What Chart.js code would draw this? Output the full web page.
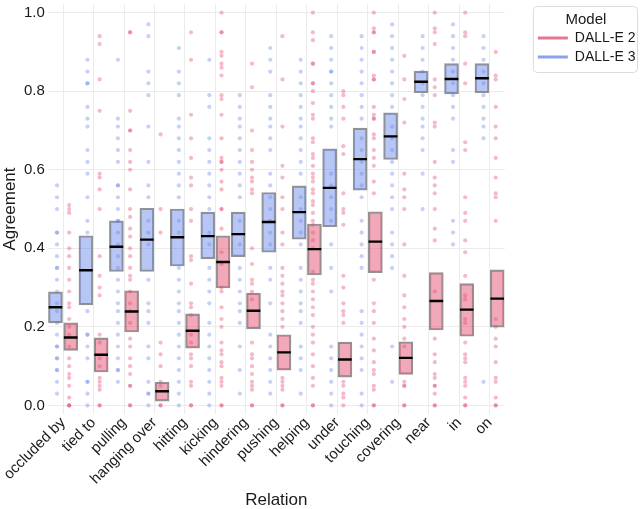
<!DOCTYPE html>
<html>
<head>
<meta charset="utf-8">
<script src="https://cdn.jsdelivr.net/npm/chart.js@4/dist/chart.umd.min.js"></script>
<style>
  html, body { margin: 0; padding: 0; background: #fff; }
  #wrap { width: 640px; height: 509px; }
</style>
</head>
<body>
<div id="wrap"><canvas id="chart"></canvas></div>
<script>
var categories = ['occluded by', 'tied to', 'pulling', 'hanging over', 'hitting', 'kicking', 'hindering',
    'pushing', 'helping', 'under', 'touching', 'covering', 'near', 'in', 'on'];
var seriesNames = ['DALL-E 2', 'DALL-E 3'];
var yTicks = [0, 0.2, 0.4, 0.6, 0.8, 1.0];

// box ranges and medians
var d2Low = [0.14, 0.085, 0.187, 0.011, 0.146, 0.299, 0.195, 0.09, 0.332, 0.072, 0.338, 0.079, 0.192, 0.176, 0.199];
var d2High = [0.21, 0.172, 0.292, 0.059, 0.233, 0.432, 0.286, 0.18, 0.462, 0.161, 0.493, 0.162, 0.338, 0.31, 0.345];
var d2Median = [0.173, 0.129, 0.239, 0.036, 0.19, 0.365, 0.241, 0.135, 0.398, 0.117, 0.417, 0.121, 0.266, 0.244, 0.272];

var d3Low = [0.21, 0.256, 0.341, 0.341, 0.355, 0.373, 0.379, 0.39, 0.423, 0.455, 0.548, 0.626, 0.796, 0.793, 0.796];
var d3High = [0.289, 0.432, 0.47, 0.502, 0.50, 0.492, 0.492, 0.542, 0.559, 0.653, 0.706, 0.745, 0.851, 0.87, 0.87];
var d3Median = [0.25, 0.344, 0.404, 0.422, 0.428, 0.431, 0.436, 0.467, 0.492, 0.554, 0.627, 0.685, 0.824, 0.831, 0.833];

// individual agreement values per relation
var d2Points = [
    [0.51, 0.50, 0.49, 0.44, 0.40, 0.38, 0.35, 0.32, 0.29, 0.26, 0.25, 0.22, 0.20, 0.18, 0.15, 0.12, 0.10, 0.08, 0.07, 0.05, 0.02, 0, 0, 0],
    [0.94, 0.92, 0.83, 0.75, 0.59, 0.58, 0.55, 0.50, 0.38, 0.33, 0.30, 0.28, 0.18, 0.16, 0.12, 0.10, 0.07, 0.06, 0.05, 0.04, 0, 0],
    [0.95, 0.95, 0.75, 0.70, 0.70, 0.65, 0.62, 0.60, 0.55, 0.50, 0.48, 0.45, 0.43, 0.40, 0.38, 0.35, 0.33, 0.32, 0.29, 0.26, 0.24, 0.21, 0.17, 0.15, 0.12, 0.10, 0.08, 0.05, 0.05, 0, 0],
    [0.69, 0.50, 0.44, 0.16, 0.13, 0.10, 0.06, 0.05, 0, 0],
    [0.95, 0.88, 0.74, 0.68, 0.63, 0.58, 0.56, 0.50, 0.47, 0.38, 0.37, 0.31, 0.26, 0.25, 0.23, 0.18, 0.16, 0.13, 0.12, 0.10, 0.06, 0.05, 0, 0],
    [1.0, 0.95, 0.95, 0.90, 0.89, 0.87, 0.86, 0.84, 0.79, 0.78, 0.74, 0.68, 0.63, 0.62, 0.62, 0.60, 0.57, 0.55, 0.50, 0.50, 0.45, 0.39, 0.36, 0.30, 0.29, 0.25, 0.22, 0.20, 0.16, 0.14, 0.13, 0.11, 0.10, 0.07, 0.06, 0.05, 0, 0],
    [0.87, 0.81, 0.70, 0.65, 0.62, 0.60, 0.58, 0.57, 0.55, 0.54, 0.40, 0.36, 0.32, 0.31, 0.29, 0.27, 0.16, 0.13, 0.12, 0.10, 0.08, 0.06, 0.05, 0.04, 0, 0],
    [0.94, 0.83, 0.71, 0.61, 0.58, 0.53, 0.50, 0.44, 0.41, 0.35, 0.33, 0.31, 0.29, 0.28, 0.26, 0.24, 0.22, 0.20, 0.07, 0.06, 0.05, 0.04, 0, 0],
    [1.0, 0.95, 0.93, 0.87, 0.87, 0.82, 0.82, 0.80, 0.77, 0.74, 0.73, 0.68, 0.67, 0.64, 0.63, 0.61, 0.59, 0.58, 0.57, 0.55, 0.54, 0.52, 0.51, 0.49, 0.47, 0.46, 0.44, 0.42, 0.40, 0.34, 0.32, 0.31, 0.29, 0.27, 0.25, 0.23, 0.20, 0.18, 0.16, 0.13, 0.10, 0.07, 0.05, 0, 0],
    [0.80, 0.79, 0.76, 0.73, 0.66, 0.64, 0.54, 0.50, 0.49, 0.46, 0.33, 0.30, 0.26, 0.24, 0.23, 0.21, 0.06, 0.05, 0.03, 0.02, 0],
    [1.0, 0.96, 0.95, 0.95, 0.90, 0.90, 0.84, 0.83, 0.83, 0.76, 0.74, 0.73, 0.73, 0.69, 0.68, 0.65, 0.63, 0.61, 0.57, 0.54, 0.32, 0.26, 0.24, 0.21, 0.17, 0.14, 0.11, 0.09, 0.08, 0.05, 0.04, 0, 0],
    [0.89, 0.83, 0.78, 0.72, 0.59, 0.55, 0.53, 0.50, 0.41, 0.33, 0.28, 0.25, 0.22, 0.20, 0.17, 0.15, 0.06, 0.05, 0.05, 0, 0],
    [1.0, 0.96, 0.95, 0.92, 0.83, 0.81, 0.79, 0.72, 0.71, 0.62, 0.58, 0.56, 0.54, 0.50, 0.45, 0.42, 0.29, 0.17, 0.13, 0.11, 0.08, 0.07, 0.05, 0.05, 0.03, 0, 0],
    [1.0, 0.95, 0.94, 0.87, 0.82, 0.67, 0.65, 0.53, 0.49, 0.47, 0.42, 0.39, 0.33, 0.28, 0.27, 0.22, 0.21, 0.16, 0.13, 0.12, 0.11, 0.07, 0.06, 0.05, 0.02, 0, 0],
    [0.90, 0.84, 0.83, 0.76, 0.71, 0.68, 0.63, 0.58, 0.54, 0.53, 0.47, 0.22, 0.20, 0.17, 0.15, 0.11, 0.07, 0.06, 0.02, 0, 0]
];
var d3Points = [
    [0.56, 0.53, 0.50, 0.44, 0.44, 0.41, 0.38, 0.35, 0.35, 0.32, 0.29, 0.26, 0.24, 0.21, 0.18, 0.15, 0.15, 0.12, 0.12, 0.09, 0.09, 0.06, 0.03],
    [0.88, 0.85, 0.82, 0.82, 0.76, 0.73, 0.71, 0.65, 0.62, 0.59, 0.53, 0.47, 0.44, 0.24, 0.18, 0.18, 0.15, 0.12, 0.06, 0.06, 0.03, 0],
    [0.88, 0.73, 0.71, 0.68, 0.65, 0.62, 0.56, 0.56, 0.53, 0.50, 0.47, 0.47, 0.44, 0.41, 0.38, 0.35, 0.32, 0.29, 0.26, 0.24, 0.21, 0.18, 0.15, 0.12, 0.09, 0.09, 0.06],
    [0.97, 0.94, 0.85, 0.82, 0.79, 0.71, 0.62, 0.56, 0.53, 0.47, 0.44, 0.41, 0.32, 0.26, 0.24, 0.21, 0.15, 0.12, 0.06, 0.03, 0.03, 0],
    [0.91, 0.85, 0.82, 0.79, 0.73, 0.71, 0.68, 0.65, 0.62, 0.59, 0.56, 0.53, 0.47, 0.44, 0.35, 0.32, 0.29, 0.26, 0.24, 0.21, 0.18, 0.15, 0.12, 0.09, 0.06, 0.03, 0],
    [0.88, 0.79, 0.76, 0.68, 0.65, 0.62, 0.59, 0.56, 0.53, 0.50, 0.44, 0.41, 0.35, 0.32, 0.29, 0.26, 0.21, 0.18, 0.15, 0.12, 0.09, 0.06, 0.03, 0],
    [0.79, 0.76, 0.73, 0.71, 0.68, 0.65, 0.62, 0.59, 0.56, 0.53, 0.47, 0.41, 0.35, 0.32, 0.29, 0.26, 0.24, 0.21, 0.15, 0.09, 0.03],
    [0.91, 0.88, 0.85, 0.79, 0.76, 0.73, 0.71, 0.68, 0.65, 0.59, 0.56, 0.53, 0.50, 0.47, 0.44, 0.41, 0.35, 0.32, 0.26, 0.18, 0.15, 0.12, 0.09, 0.06, 0.03],
    [0.88, 0.85, 0.82, 0.79, 0.76, 0.73, 0.71, 0.68, 0.65, 0.62, 0.59, 0.53, 0.50, 0.47, 0.44, 0.41, 0.35, 0.32, 0.29, 0.26, 0.24, 0.21, 0.15, 0.12, 0.09, 0.03],
    [0.94, 0.91, 0.88, 0.85, 0.85, 0.82, 0.79, 0.76, 0.73, 0.71, 0.59, 0.56, 0.53, 0.50, 0.47, 0.41, 0.35, 0.29, 0.15, 0.12, 0.09, 0.06, 0.03, 0],
    [0.94, 0.91, 0.88, 0.85, 0.82, 0.79, 0.76, 0.73, 0.68, 0.65, 0.62, 0.59, 0.56, 0.53, 0.47, 0.44, 0.41, 0.38, 0.35, 0.24, 0.21, 0.18, 0.15, 0.12, 0.09, 0.03, 0],
    [0.97, 0.94, 0.91, 0.88, 0.85, 0.82, 0.79, 0.76, 0.71, 0.68, 0.65, 0.62, 0.59, 0.56, 0.53, 0.50, 0.44, 0.41, 0.38, 0.35, 0.15, 0.06],
    [0.94, 0.91, 0.88, 0.85, 0.82, 0.79, 0.76, 0.73, 0.71, 0.68, 0.65, 0.59, 0.50],
    [0.97, 0.94, 0.91, 0.88, 0.85, 0.82, 0.79, 0.76, 0.73, 0.65, 0.62, 0.47, 0.44, 0.41],
    [0.94, 0.91, 0.88, 0.85, 0.82, 0.79, 0.76, 0.73, 0.71, 0.68, 0.06]
];

var FONT = "'Liberation Sans', Arial, sans-serif";
var BOX_SHIFT = 0.25;   // dodge of the boxes from the category centre
var POINT_SHIFT = 0.2;  // dodge of the points

function boxData(lo, hi, shift) {
    return lo.map(function(v, i) { return { x: i + shift, y: [v, hi[i]] }; });
}
function medianData(med, shift) {
    return med.map(function(v, i) { return { x: i + shift, y: [v - 0.0022, v + 0.0022] }; });
}
function scatterData(points, shift) {
    var out = [];
    points.forEach(function(list, i) {
        list.forEach(function(v) { out.push({ x: i + shift, y: v }); });
    });
    return out;
}

// border round the legend items
var legendFrame = {
    id: 'legendFrame',
    afterDraw: function(chart) {
        var lg = chart.legend;
        var boxes = lg.legendHitBoxes;
        if (!boxes || !boxes.length) return;
        var last = boxes[boxes.length - 1];
        var top = lg.top + 6;
        var bottom = last.top + last.height + 8;
        var ctx = chart.ctx;
        ctx.save();
        ctx.strokeStyle = '#dcdcdc';
        ctx.lineWidth = 1;
        ctx.beginPath();
        ctx.roundRect(lg.left + 0.5, top + 0.5, lg.width - 2, bottom - top, 4);
        ctx.stroke();
        ctx.restore();
    }
};

var ctx = document.getElementById('chart').getContext('2d');
var chart = new Chart(ctx, {
    type: 'bar',
    data: {
        labels: categories,
        datasets: [
            { type: 'scatter', xAxisID: 'xp', data: scatterData(d3Points, -POINT_SHIFT), backgroundColor: 'rgba(98, 128, 232, 0.36)', borderWidth: 0, pointRadius: 2.1, order: 3 },
            { type: 'scatter', xAxisID: 'xp', data: scatterData(d2Points, POINT_SHIFT), backgroundColor: 'rgba(226, 74, 108, 0.38)', borderWidth: 0, pointRadius: 2.1, order: 3 },
            { label: seriesNames[1], xAxisID: 'xp', grouped: false, barThickness: 14, data: boxData(d3Low, d3High, -BOX_SHIFT), backgroundColor: 'rgba(98, 128, 232, 0.45)', borderColor: 'rgba(120, 120, 120, 0.8)', borderWidth: 1.5, borderSkipped: false, order: 2 },
            { label: seriesNames[0], xAxisID: 'xp', grouped: false, barThickness: 14, data: boxData(d2Low, d2High, BOX_SHIFT), backgroundColor: 'rgba(226, 74, 108, 0.48)', borderColor: 'rgba(120, 120, 120, 0.8)', borderWidth: 1.5, borderSkipped: false, order: 2 },
            { xAxisID: 'xp', grouped: false, barThickness: 13, data: medianData(d3Median, -BOX_SHIFT), backgroundColor: '#000', borderWidth: 0, order: 1 },
            { xAxisID: 'xp', grouped: false, barThickness: 13, data: medianData(d2Median, BOX_SHIFT), backgroundColor: '#000', borderWidth: 0, order: 1 }
        ]
    },
    options: {
        responsive: true,
        maintainAspectRatio: false,
        animation: false,
        layout: { padding: { top: 0, right: 1, bottom: 0, left: 2 } },
        scales: {
            x: {
                type: 'category',
                offset: true,
                grid: { display: true, offset: false, color: '#ebebeb', lineWidth: 1, drawTicks: false },
                border: { display: false },
                ticks: { color: '#1a1a1a', font: { family: FONT, size: 15, lineHeight: 1 }, minRotation: 45, maxRotation: 45, padding: 1, autoSkip: false },
                title: { display: true, text: 'Relation', color: '#1a1a1a', font: { family: FONT, size: 17, lineHeight: 1 }, padding: { top: 4, bottom: 0 } },
                afterFit: function(scale) { scale.paddingLeft = 0; scale.paddingRight = 0; }
            },
            xp: {
                type: 'linear',
                display: false,
                min: -0.5,
                max: 14.5,
                offset: false
            },
            y: {
                stacked: false,
                min: -0.022,
                max: 1.022,
                grid: { color: '#ebebeb', lineWidth: 1, drawTicks: false },
                border: { display: false },
                afterBuildTicks: function(scale) {
                    scale.ticks = yTicks.map(function(v) { return { value: v }; });
                },
                afterFit: function(scale) { scale.paddingTop = 0; scale.paddingBottom = 0; },
                ticks: {
                    color: '#1a1a1a',
                    font: { family: FONT, size: 15 },
                    padding: 3,
                    callback: function(v) { return Number(v).toFixed(1); }
                },
                title: { display: true, text: 'Agreement', color: '#1a1a1a', font: { family: FONT, size: 17, lineHeight: 1 }, padding: { top: 0, bottom: 2 } }
            },
            gap: {
                type: 'linear',
                position: 'right',
                display: true,
                grid: { display: false, drawTicks: false },
                border: { display: false },
                ticks: { display: false },
                afterFit: function(scale) { scale.width = 28; scale.paddingTop = 0; scale.paddingBottom = 0; }
            }
        },
        plugins: {
            tooltip: { enabled: false },
            legend: {
                position: 'right',
                align: 'start',
                title: { display: true, text: 'Model', color: '#1a1a1a', font: { family: FONT, size: 15 }, padding: { top: 12, bottom: -4 } },
                labels: {
                    color: '#1a1a1a',
                    font: { family: FONT, size: 14 },
                    boxWidth: 30,
                    boxHeight: 3,
                    padding: 5,
                    generateLabels: function() {
                        return [
                            { text: seriesNames[0], fillStyle: 'rgb(232, 118, 142)', strokeStyle: 'rgb(232, 118, 142)', lineWidth: 0, datasetIndex: 3 },
                            { text: seriesNames[1], fillStyle: 'rgb(140, 163, 236)', strokeStyle: 'rgb(140, 163, 236)', lineWidth: 0, datasetIndex: 2 }
                        ];
                    }
                }
            }
        }
    },
    plugins: [legendFrame]
});
</script>
</body>
</html>
